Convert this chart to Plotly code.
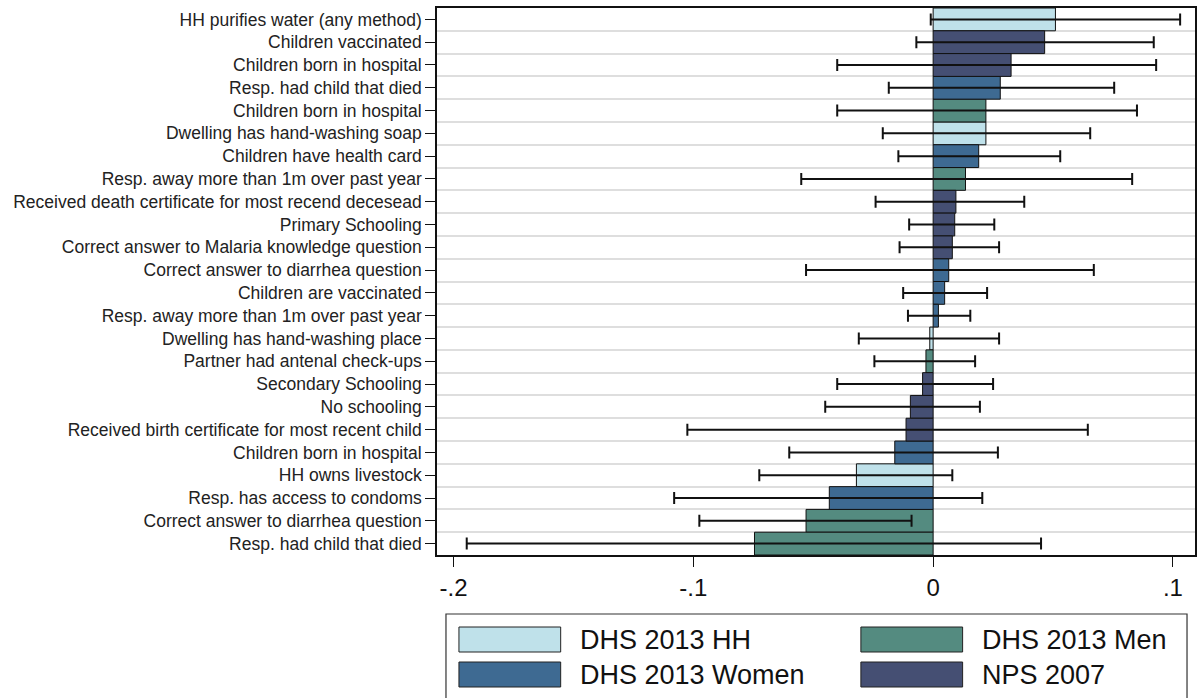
import plotly.graph_objects as go

# ---------------- data ----------------
labels = [
    "HH purifies water (any method)",
    "Children vaccinated",
    "Children born in hospital",
    "Resp. had child that died",
    "Children born in hospital",
    "Dwelling has hand-washing soap",
    "Children have health card",
    "Resp. away more than 1m over past year",
    "Received death certificate for most recend decesead",
    "Primary Schooling",
    "Correct answer to Malaria knowledge question",
    "Correct answer to diarrhea question",
    "Children are vaccinated",
    "Resp. away more than 1m over past year",
    "Dwelling has hand-washing place",
    "Partner had antenal check-ups",
    "Secondary Schooling",
    "No schooling",
    "Received birth certificate for most recent child",
    "Children born in hospital",
    "HH owns livestock",
    "Resp. has access to condoms",
    "Correct answer to diarrhea question",
    "Resp. had child that died",
]
source = [
    "DHS 2013 HH", "NPS 2007", "NPS 2007", "DHS 2013 Women", "DHS 2013 Men",
    "DHS 2013 HH", "DHS 2013 Women", "DHS 2013 Men", "NPS 2007", "NPS 2007",
    "NPS 2007", "DHS 2013 Women", "DHS 2013 Women", "DHS 2013 Women", "DHS 2013 HH",
    "DHS 2013 Men", "NPS 2007", "NPS 2007", "NPS 2007", "DHS 2013 Women",
    "DHS 2013 HH", "DHS 2013 Women", "DHS 2013 Men", "DHS 2013 Men",
]
estimate = [0.051, 0.0465, 0.0325, 0.028, 0.022, 0.022, 0.019, 0.0135, 0.0095, 0.009,
            0.008, 0.0065, 0.0048, 0.0022, -0.0014, -0.003, -0.0044, -0.0095, -0.0113, -0.016,
            -0.032, -0.0433, -0.053, -0.0745]
ci_low = [-0.001, -0.007, -0.040, -0.0185, -0.040, -0.021, -0.0145, -0.055, -0.024, -0.010,
          -0.014, -0.053, -0.0125, -0.0105, -0.031, -0.0245, -0.040, -0.045, -0.1025, -0.060,
          -0.0725, -0.108, -0.0975, -0.1945]
ci_high = [0.103, 0.092, 0.093, 0.0755, 0.085, 0.0655, 0.053, 0.083, 0.038, 0.0255,
           0.0275, 0.067, 0.0225, 0.0155, 0.0275, 0.0175, 0.025, 0.0195, 0.0645, 0.027,
           0.008, 0.0205, -0.009, 0.045]

series_order = ["DHS 2013 HH", "DHS 2013 Men", "DHS 2013 Women", "NPS 2007"]
colors = {
    "DHS 2013 HH": "#bfe1ea",
    "DHS 2013 Men": "#548b80",
    "DHS 2013 Women": "#3e6a92",
    "NPS 2007": "#454f73",
}
x_ticks = [-0.2, -0.1, 0, 0.1]
x_ticktext = ["-.2", "-.1", "0", ".1"]

# ---------------- figure ----------------
W, H = 1200, 698
ML, MR, MT, MB = 437, 3, 8, 143
PW, PH = W - ML - MR, H - MT - MB

fig = go.Figure()
rows = list(range(len(labels)))
for s in series_order:
    idx = [i for i in rows if source[i] == s]
    fig.add_trace(go.Bar(
        orientation="h",
        y=[i for i in idx],
        x=[estimate[i] for i in idx],
        width=1.0,
        marker=dict(color=colors[s], line=dict(color="#111111", width=1)),
        error_x=dict(type="data", symmetric=False,
                     array=[ci_high[i] - estimate[i] for i in idx],
                     arrayminus=[estimate[i] - ci_low[i] for i in idx],
                     color="#111111", thickness=2, width=6),
        name=s, showlegend=False,
    ))

fig.update_layout(
    width=W, height=H,
    margin=dict(l=ML, r=MR, t=MT, b=MB),
    paper_bgcolor="white", plot_bgcolor="white",
    barmode="overlay",
    font=dict(family="Liberation Sans, Arial, sans-serif", color="#222222"),
    xaxis=dict(range=[-0.2069, 0.1092], tickvals=x_ticks, ticktext=x_ticktext,
               showgrid=False, zeroline=False, showline=True, linecolor="#111111",
               linewidth=1.5, mirror=True, ticks="outside", ticklen=10, tickwidth=1.3,
               tickcolor="#111111", tickfont=dict(size=24, color="#111111")),
    yaxis=dict(range=[len(labels) - 0.5, -0.5], tickvals=rows, ticktext=labels,
               showgrid=False, zeroline=False, showline=True, linecolor="#111111",
               linewidth=1.5, mirror=True, ticks="outside", ticklen=10, tickwidth=1.3,
               tickcolor="#111111", tickfont=dict(size=17.5, color="#222222"),
               minor=dict(tickvals=[i + 0.5 for i in rows[:-1]], showgrid=True,
                          gridcolor="#dedede", gridwidth=2, ticks="")),
)

# ---------------- manual legend ----------------
def px(x):
    return (x - ML) / PW

def py(y):
    return (H - MB - y) / PH

fig.add_shape(type="rect", xref="paper", yref="paper",
              x0=px(446), x1=px(1189), y0=py(614), y1=py(705),
              line=dict(color="#333333", width=1.2), fillcolor="white")

legend_pos = {
    "DHS 2013 HH": (459, 627),
    "DHS 2013 Men": (862, 627),
    "DHS 2013 Women": (459, 662),
    "NPS 2007": (862, 662),
}
for s in series_order:
    x0, y0 = legend_pos[s]
    fig.add_shape(type="rect", xref="paper", yref="paper",
                  x0=px(x0), x1=px(x0 + 102), y0=py(y0), y1=py(y0 + 25),
                  line=dict(color="#222222", width=1), fillcolor=colors[s])
    fig.add_annotation(xref="paper", yref="paper", x=px(x0 + 119), y=py(y0 + 12.5),
                       text=s, showarrow=False, xanchor="left", yanchor="middle",
                       font=dict(size=27, color="#111111"))

fig.write_html("out.html")
